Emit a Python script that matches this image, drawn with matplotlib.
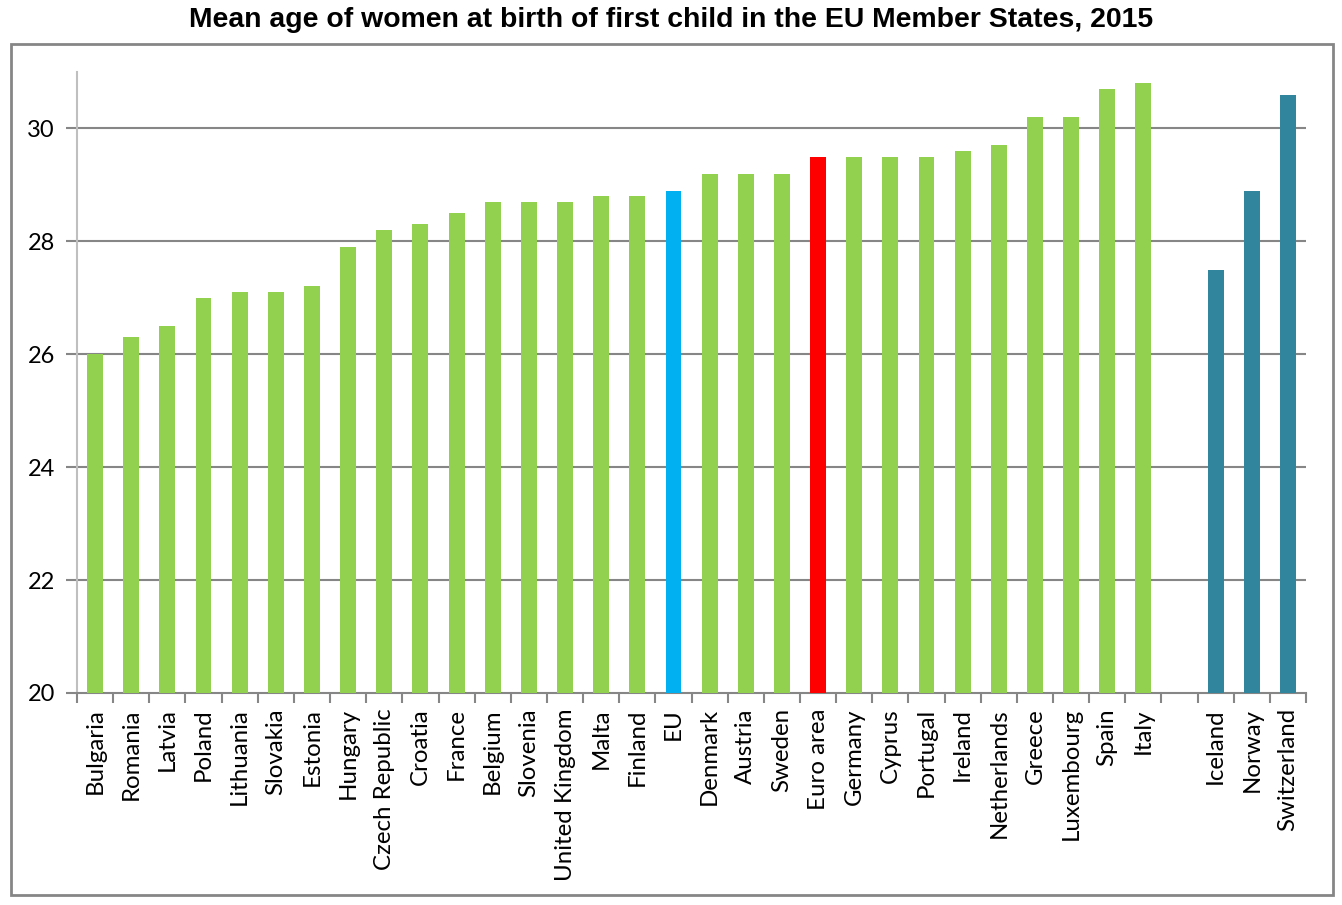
import matplotlib.pyplot as plt
from matplotlib.patches import Rectangle

# -------------------------------
# Data
# -------------------------------

countries = ["Bulgaria", "Romania", "Latvia", "Poland", "Lithuania", "Slovakia",
             "Estonia", "Hungary", "Czech Republic", "Croatia", "France", "Belgium",
             "Slovenia", "United Kingdom", "Malta", "Finland", "EU", "Denmark",
             "Austria", "Sweden", "Euro area", "Germany", "Cyprus", "Portugal",
             "Ireland", "Netherlands", "Greece", "Luxembourg", "Spain", "Italy",
             "", "Iceland", "Norway", "Switzerland"]
ages = [26.0, 26.3, 26.5, 27.0, 27.1, 27.1,
        27.2, 27.9, 28.2, 28.3, 28.5, 28.7,
        28.7, 28.7, 28.8, 28.8, 28.9, 29.2,
        29.2, 29.2, 29.5, 29.5, 29.5, 29.5,
        29.6, 29.7, 30.2, 30.2, 30.7, 30.8,
        None, 27.5, 28.9, 30.6]
groups = ["member"] * 16 + ["eu"] + ["member"] * 3 + ["euro"] + ["member"] * 9 \
    + [None] + ["efta"] * 3

colors = {"member": "#92D050", "eu": "#00B0F0", "euro": "#FF0000", "efta": "#31859C"}

# -------------------------------
# Plot
# -------------------------------

fig = plt.figure(figsize=(13.42, 9.05), dpi=100)
plt.rcParams['font.family'] = ['Lato', 'DejaVu Sans']

# outer frame
fig.patches.append(Rectangle((11 / 1342, 10 / 905), 1322 / 1342, 851 / 905,
                             transform=fig.transFigure, fill=False,
                             edgecolor="#868686", linewidth=2))

fig.text(0.5, 0.978, "Mean age of women at birth of first child in the EU Member States, 2015",
         ha="center", va="center", fontsize=20.4, fontweight="bold",
         family="Liberation Sans")

ax = fig.add_axes([0.0574, 0.2343, 0.9158, 0.6862])

x = list(range(len(countries)))
for i, (a, g) in enumerate(zip(ages, groups)):
    if a is None:
        continue
    ax.bar(i, a - 20, bottom=20, width=0.44, color=colors[g], zorder=3)

ax.set_xlim(-0.5, len(countries) - 0.5)
ax.set_ylim(20, 31)
ax.set_yticks([20, 22, 24, 26, 28, 30])
for yv in [22, 24, 26, 28, 30]:
    ax.axhline(yv, color="#868686", linewidth=1.5, zorder=1)

ax.set_xticks(x)
ax.set_xticklabels(countries, rotation=90, fontsize=17.3)
ax.set_xticks([i - 0.5 for i in range(len(countries) + 1)], minor=True)
ax.tick_params(axis="x", which="major", length=0, pad=11)
ax.tick_params(axis="x", which="minor", length=7, width=1.5, color="#868686")
ax.tick_params(axis="y", length=8, width=1.5, color="#868686", labelsize=17, pad=8)

for s in ["top", "right"]:
    ax.spines[s].set_visible(False)
ax.spines["left"].set_color("#BFBFBF")
ax.spines["left"].set_linewidth(1.5)
ax.spines["bottom"].set_color("#868686")
ax.spines["bottom"].set_linewidth(1.5)

plt.savefig("out.png", dpi=100)
